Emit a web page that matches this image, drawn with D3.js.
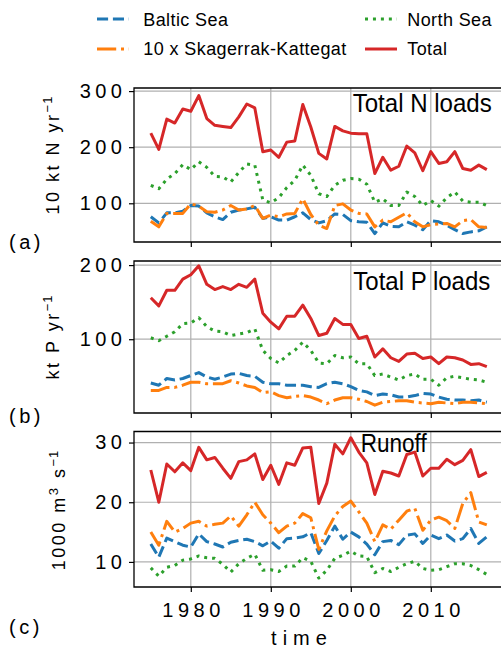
<!DOCTYPE html>
<html><head><meta charset="utf-8">
<script src="https://cdn.jsdelivr.net/npm/d3@7"></script>
<style>body{margin:0;background:#fff} svg{display:block}</style>
</head><body><div id="chart"></div>
<script>
// ---------- data ----------
const years = [1975,1976,1977,1978,1979,1980,1981,1982,1983,1984,1985,1986,1987,1988,1989,1990,1991,1992,1993,1994,1995,1996,1997,1998,1999,2000,2001,2002,2003,2004,2005,2006,2007,2008,2009,2010,2011,2012,2013,2014,2015,2016,2017];
const seriesNames = ["Baltic Sea","10 x Skagerrak-Kattegat","North Sea","Total"];

// (a) Total N loads, 10 kt N / yr
const balticN = [76,65,83,83,86,96,95,83,76,71,84,88,90,93,73,76,70,70,76,83,71,65,69,81,80,69,67,66,46,65,59,58,67,61,53,69,67,61,53,46,49,51,58];
const skN     = [68,58,82,82,82,99,95,85,84,88,96,88,90,96,73,79,76,81,82,108,80,61,55,96,99,88,82,81,58,70,67,75,83,67,58,62,63,64,58,69,71,58,57];
const northN  = [132,126,143,153,169,160,174,164,148,147,138,155,170,168,106,101,110,128,141,168,150,117,112,132,141,144,143,134,102,108,96,96,120,112,96,105,95,110,120,104,102,102,96];
const totalN  = [225,196,250,243,268,264,292,251,239,237,235,254,277,270,192,195,182,209,211,276,236,189,179,237,229,225,224,224,153,182,159,166,202,190,158,192,171,174,192,162,159,168,160];

// (b) Total P loads, kt P / yr
const balticP = [41,38,47,45,47,51,55,49,46,49,53,54,51,50,42,40,40,38,38,38,36,35,40,42,40,36,31,29,24,26,25,22,22,24,27,26,22,19,18,18,17,18,15];
const skP     = [31,31,35,35,38,42,42,40,40,40,44,41,37,35,28,29,24,21,23,24,22,18,13,18,21,21,19,16,11,15,16,17,17,15,14,13,15,14,13,15,15,14,13];
const northP  = [102,98,104,110,121,122,129,117,111,110,105,107,109,114,85,74,68,78,85,96,85,68,67,78,75,76,67,67,51,53,49,45,51,53,46,46,38,48,50,48,46,45,42];
const totalP  = [156,145,166,166,181,187,199,174,167,171,167,174,170,181,135,123,114,131,131,146,128,105,108,128,120,120,101,104,76,87,75,70,80,81,74,76,67,76,75,72,66,67,63];

// (c) Runoff, 1000 m3 / s
const balticR = [13,10.8,14,13.4,12.8,12.5,14.7,13.4,13,12.5,13.3,13.6,13.8,13.4,12.7,13.5,12.3,13.9,14,14.2,14.9,11.4,13.6,16,13.8,15,14.2,13,11.2,13.4,13.6,12.9,14.5,14.7,13.1,14.5,13.9,14.5,13.5,13.9,15.6,13.1,14.2];
const skR     = [15,12.8,16.8,15,15.6,16.5,16.8,16,16.3,16.5,17.7,16,17.9,20,17.9,16.5,14.9,16,16.5,18.1,17.4,12.1,15.2,17.7,19.3,20.2,18.4,16.5,13.4,16.2,15.5,17,18.5,19,15.3,17,17.5,16.9,15.6,19.8,21.6,16.7,16.2];
const northR  = [9,7.6,9.1,9.4,10.3,10.5,11,10.7,10.6,9.6,8.3,9.7,10.6,11.3,8.6,8.7,8.4,9.3,9.3,10.7,10.1,7.3,8.6,10.6,11.1,11.8,11,10.9,8.2,8.9,8.4,9.1,9.7,10.1,8.9,8.6,8.7,9.2,9.7,9.7,9.4,8.7,7.9];
const totalR  = [25.4,20,26.4,25.1,26.6,25.3,29.2,27.1,27.5,25.7,24,26.8,27.1,28.1,23.8,26.2,23,26.6,26.2,29.1,29.2,19.8,23.2,29.7,28.1,30.8,28.4,26.6,21.3,25.2,24.9,24.4,28,28.4,24.4,25.7,25.7,27.2,26.3,27,28.8,24.3,25];

const xTicks = [1980,1990,2000,2010];
const yTicksA = [100,200,300];
const yTicksB = [100,200];
const yTicksC = [10,20,30];

// ---------- styles ----------
const FONT = "'Liberation Sans', Arial, Helvetica, sans-serif";
const colors = ["#1f77b4","#ff7f0e","#2ca02c","#d62728"];
const LW = 3;
const dashes = ["11.1,4.8","19.2,4.8,3,4.8","3,4.95",null];
const TICK_FS = 20, TICK_LS = 4.5;

const W = 501, H = 650;
const svg = d3.select("#chart").append("svg").attr("width",W).attr("height",H)
  .style("font-family",FONT);

const x = d3.scaleLinear().domain([1972.9, 2019.1]).range([134, 503.6]);

const panels = [
  {top:88, bottom:242, domain:[31,305.5], ticks:yTicksA, data:[balticN,skN,northN,totalN],
   ylab:["10 kt N yr","−1"], ylabX:58.5, ylabY:155, note:"Total N loads", noteX:352.7, noteY:112, noteW:139,
   letter:"(a)", letterY:249, showX:false},
  {top:261, bottom:413, domain:[0.5,205.5], ticks:yTicksB, data:[balticP,skP,northP,totalP],
   ylab:["kt P yr","−1"], ylabX:59, ylabY:337, note:"Total P loads", noteX:353.3, noteY:290, noteW:137,
   letter:"(b)", letterY:423, showX:false},
  {top:431.5, bottom:587, domain:[5.8,31.85], ticks:yTicksC, data:[balticR,skR,northR,totalR],
   ylab:null, ylabX:65, ylabY:510, note:"Runoff", noteX:360.7, noteY:452, noteW:66,
   letter:"(c)", letterY:634, showX:true}
];

panels.forEach((p,pi)=>{
  const y = d3.scaleLinear().domain(p.domain).range([p.bottom,p.top]);
  const g = svg.append("g");
  const clipId = "clip"+pi;
  svg.append("clipPath").attr("id",clipId).append("rect")
    .attr("x",134).attr("y",p.top).attr("width",W).attr("height",p.bottom-p.top);

  // grid
  g.selectAll(".vg").data(xTicks).join("line")
    .attr("x1",d=>x(d)).attr("x2",d=>x(d)).attr("y1",p.top).attr("y2",p.bottom)
    .attr("stroke","#b0b0b0").attr("stroke-width",1.2);
  g.selectAll(".hg").data(p.ticks).join("line")
    .attr("x1",134).attr("x2",W).attr("y1",d=>y(d)).attr("y2",d=>y(d))
    .attr("stroke","#b0b0b0").attr("stroke-width",1.2);

  // lines
  const line = d3.line().x((d,i)=>x(years[i])).y(d=>y(d));
  p.data.forEach((arr,si)=>{
    g.append("path").datum(arr).attr("d",line)
      .attr("clip-path",`url(#${clipId})`)
      .attr("fill","none").attr("stroke",colors[si]).attr("stroke-width",LW)
      .attr("stroke-linejoin","round")
      .attr("stroke-dasharray",dashes[si]);
  });

  // frame
  g.append("path").attr("d",`M${W+5},${p.top}H134V${p.bottom}H${W+5}`)
    .attr("fill","none").attr("stroke","#000").attr("stroke-width",1.3);

  // y axis
  const ya = d3.axisLeft(y).tickValues(p.ticks).tickSize(5).tickPadding(7).tickSizeOuter(0);
  const yg = svg.append("g").attr("transform","translate(134,0)").call(ya);
  yg.select(".domain").remove();
  yg.selectAll(".tick line").attr("stroke","#000").attr("stroke-width",1.2);
  yg.selectAll(".tick text").attr("font-family",FONT).attr("font-size",TICK_FS)
    .attr("fill","#000").style("letter-spacing",TICK_LS+"px").attr("dx",TICK_LS+"px");

  // x axis
  const xa = d3.axisBottom(x).tickValues(xTicks).tickSize(5).tickPadding(11).tickSizeOuter(0)
    .tickFormat(p.showX ? d3.format("d") : "");
  const xg = svg.append("g").attr("transform",`translate(0,${p.bottom})`).call(xa);
  xg.select(".domain").remove();
  xg.selectAll(".tick line").attr("stroke","#000").attr("stroke-width",1.2);
  xg.selectAll(".tick text").attr("font-family",FONT).attr("font-size",TICK_FS)
    .attr("fill","#000").style("letter-spacing",TICK_LS+"px").attr("dx",(TICK_LS/2)+"px");

  // y label
  const yl = svg.append("text").attr("transform",`translate(${p.ylabX},${p.ylabY}) rotate(-90)`)
    .attr("text-anchor","middle").attr("font-size",18).style("letter-spacing","2.5px").attr("fill","#000");
  if (pi<2) {
    yl.append("tspan").text(p.ylab[0]);
    yl.append("tspan").attr("dy",-7).attr("font-size",13).style("letter-spacing","1px").text(p.ylab[1]);
  } else {
    yl.append("tspan").text("1000 m");
    yl.append("tspan").attr("dy",-7).attr("font-size",13).text("3");
    yl.append("tspan").attr("dy",7).text(" s");
    yl.append("tspan").attr("dy",-7).attr("font-size",13).style("letter-spacing","1px").text("−1");
  }

  // annotation
  svg.append("text").attr("x",p.noteX).attr("y",p.noteY).attr("font-size",25)
    .attr("textLength",p.noteW).attr("lengthAdjust","spacingAndGlyphs").attr("fill","#000").text(p.note);

  // panel letter
  svg.append("text").attr("x",9).attr("y",p.letterY).attr("font-size",20)
    .style("letter-spacing","3.5px").attr("fill","#000").text(p.letter);
});

// x label
svg.append("text").attr("x",302).attr("y",645).attr("text-anchor","middle")
  .attr("font-size",20).style("letter-spacing","6px").attr("fill","#000").text("time");

// legend
const legendItems = [
  {i:0, lx:97, ly:19, tx:143.3, ty:26},
  {i:1, lx:97, ly:49, tx:143.3, ty:55},
  {i:2, lx:365, ly:19, tx:407.3, ty:26},
  {i:3, lx:365, ly:49, tx:407.3, ty:55}
];
const lg = svg.append("g");
legendItems.forEach(it=>{
  lg.append("line").attr("x1",it.lx).attr("x2",it.lx+32).attr("y1",it.ly).attr("y2",it.ly)
    .attr("stroke",colors[it.i]).attr("stroke-width",LW).attr("stroke-dasharray",dashes[it.i]);
  lg.append("text").attr("x",it.tx).attr("y",it.ty).attr("font-size",18)
    .style("letter-spacing","0.4px").attr("fill","#000").text(seriesNames[it.i]);
});
</script>
</body></html>
